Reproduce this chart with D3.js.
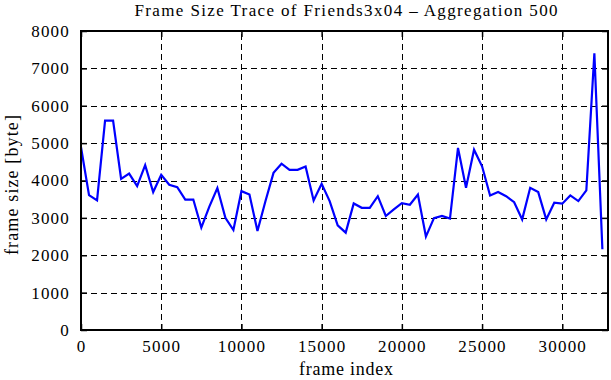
<!DOCTYPE html>
<html>
<head>
<meta charset="utf-8">
<script src="https://cdn.jsdelivr.net/npm/d3@7"></script>
<style>
  body { margin: 0; background: #fff; }
  svg text { font-family: "Liberation Serif", "DejaVu Serif", serif; fill: #000; }
</style>
</head>
<body>
<svg id="svg" width="611" height="380"></svg>
<script>
// chart data (one point every 500 frames)
const title = "Frame Size Trace of Friends3x04 \u2013 Aggregation 500";
const xLabel = "frame index";
const yLabel = "frame size [byte]";
const xTicks = [0, 5000, 10000, 15000, 20000, 25000, 30000];
const yTicks = [0, 1000, 2000, 3000, 4000, 5000, 6000, 7000, 8000];
const frameStep = 500;
const frameSizes = [
    4890, 3610, 3470, 5600, 5600, 4045, 4185, 3850, 4410, 3690,
    4150, 3885, 3820, 3490, 3490, 2740, 3300, 3800, 3000, 2675,
    3715, 3625, 2650, 3450, 4205, 4450, 4285, 4285, 4375, 3465,
    3910, 3450, 2800, 2605, 3385, 3270, 3270, 3580, 3050, 3225,
    3395, 3350, 3625, 2500, 2995, 3050, 2980, 4870, 3805, 4825,
    4380, 3600, 3690, 3580, 3420, 2960, 3805, 3690, 2960, 3405,
    3380, 3600, 3450, 3735, 7405, 2160
];

// layout
const plot = { left: 81, right: 608, top: 31, bottom: 330 };

let xScale = d3.scaleLinear()
    .domain([0, 32850])
    .range([plot.left, plot.right]);
let yScale = d3.scaleLinear()
    .domain([0, 8000])
    .range([plot.bottom, plot.top]);

let mySvg = d3.select('#svg');

// grid lines (dashed)
let grid = mySvg.append("g")
    .attr("stroke", "#000")
    .attr("stroke-width", 1)
    .attr("stroke-dasharray", "6,4");
grid.selectAll(".gx")
    .data(xTicks.filter(d => d > 0))
    .enter().append("line")
    .attr("x1", d => Math.round(xScale(d)) + 0.5)
    .attr("x2", d => Math.round(xScale(d)) + 0.5)
    .attr("y1", plot.bottom)
    .attr("y2", plot.top);
grid.selectAll(".gy")
    .data(yTicks.filter(d => d > 0 && d < 8000))
    .enter().append("line")
    .attr("y1", d => Math.round(yScale(d)) + 0.5)
    .attr("y2", d => Math.round(yScale(d)) + 0.5)
    .attr("x1", plot.left)
    .attr("x2", plot.right);

// axes: ticks point inward, mirrored on top and right
const tickLen = 6;
let xAxis = d3.axisBottom(xScale).tickValues(xTicks).tickSize(-tickLen).tickPadding(tickLen + 4).tickFormat(d3.format("d"));
let xAxisTop = d3.axisTop(xScale).tickValues(xTicks).tickSize(-tickLen).tickFormat("");
let yAxis = d3.axisLeft(yScale).tickValues(yTicks).tickSize(-tickLen).tickPadding(tickLen + 5).tickFormat(d3.format("d"));
let yAxisRight = d3.axisRight(yScale).tickValues(yTicks).tickSize(-tickLen).tickFormat("");

function styleAxis(g) {
    g.select(".domain").remove();
    g.selectAll(".tick line").attr("stroke", "#000").attr("stroke-width", 1.5);
    g.selectAll(".tick text")
        .attr("font-size", 17)
        .attr("letter-spacing", 1.2)
        .attr("font-family", "Liberation Serif");
}

mySvg.append("g").attr("transform", `translate(0, ${plot.bottom})`).call(xAxis).call(styleAxis);
mySvg.append("g").attr("transform", `translate(0, ${plot.top})`).call(xAxisTop).call(styleAxis);
mySvg.append("g").attr("transform", `translate(${plot.left}, 0)`).call(yAxis).call(styleAxis);
mySvg.append("g").attr("transform", `translate(${plot.right}, 0)`).call(yAxisRight).call(styleAxis);

// data line
let line = d3.line()
    .x((d, i) => xScale(i * frameStep))
    .y(d => yScale(d));
mySvg.append("path")
    .datum(frameSizes)
    .attr("d", line)
    .attr("fill", "none")
    .attr("stroke", "#0000ff")
    .attr("stroke-width", 2.2)
    .attr("stroke-linejoin", "miter");

// frame
mySvg.append("rect")
    .attr("x", plot.left)
    .attr("y", plot.top)
    .attr("width", plot.right - plot.left)
    .attr("height", plot.bottom - plot.top)
    .attr("fill", "none")
    .attr("stroke", "#000")
    .attr("stroke-width", 2);

// labels
mySvg.append("text")
    .attr("x", 346).attr("y", 16)
    .attr("text-anchor", "middle")
    .attr("font-size", 17)
    .attr("textLength", 423)
    .attr("lengthAdjust", "spacing")
    .text(title);
mySvg.append("text")
    .attr("x", 346).attr("y", 375)
    .attr("text-anchor", "middle")
    .attr("font-size", 18)
    .attr("textLength", 94)
    .attr("lengthAdjust", "spacing")
    .text(xLabel);
mySvg.append("text")
    .attr("transform", `translate(18, 185) rotate(-90)`)
    .attr("text-anchor", "middle")
    .attr("font-size", 18)
    .attr("textLength", 140)
    .attr("lengthAdjust", "spacing")
    .text(yLabel);
</script>
</body>
</html>
